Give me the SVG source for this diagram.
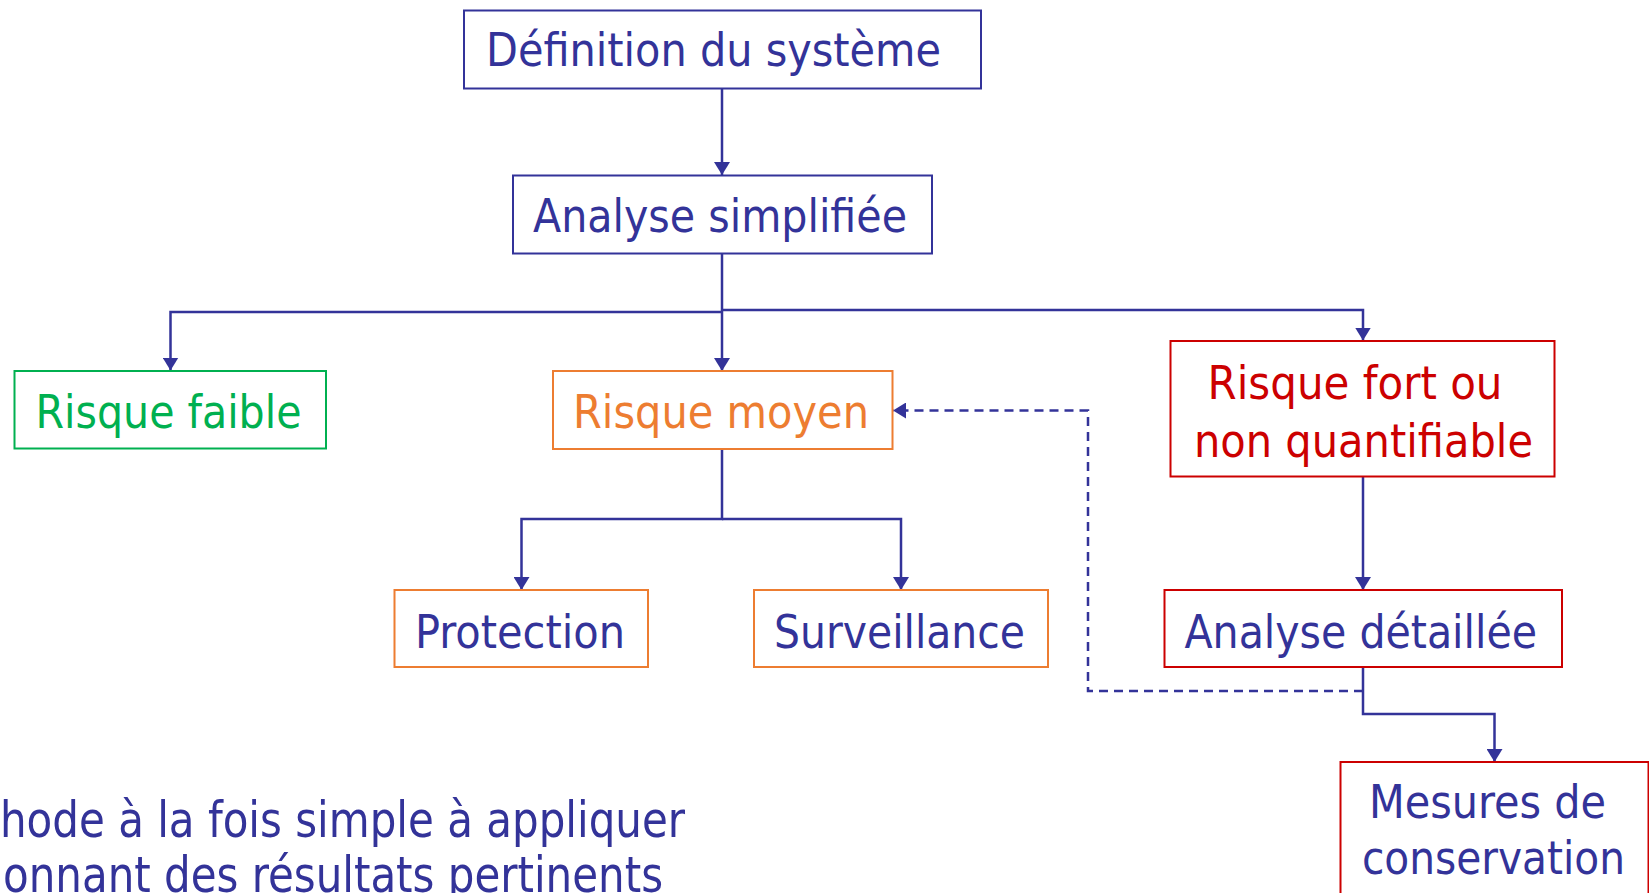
<svg xmlns="http://www.w3.org/2000/svg" width="1649" height="893" viewBox="0 0 1649 893">
<style>
text{font-family:"DejaVu Sans Condensed","DejaVu Sans",sans-serif;font-stretch:condensed;font-size:47px;fill:#333399}
.box{fill:#fff;stroke-width:2}
.navy{stroke:#333399}
.green{stroke:#00B050}
.orange{stroke:#ED7D31}
.red{stroke:#CC0000}
.tg{fill:#00B050}
.to{fill:#ED7D31}
.tr{fill:#CC0000}
.con{fill:none;stroke:#333399;stroke-width:2.5}
.dash{stroke-dasharray:9 6}
</style>
<defs>
<marker id="ah" viewBox="0 0 13 16" refX="13" refY="8" markerWidth="13" markerHeight="16" markerUnits="userSpaceOnUse" orient="auto">
<path d="M0,0 L13,8 L0,16 z" fill="#333399"/>
</marker>
</defs>
<rect width="1649" height="893" fill="#fff"/>
<g id="connectors">
<path class="con" d="M722,88 V175" marker-end="url(#ah)"/>
<path class="con" d="M722,253.5 V371" marker-end="url(#ah)"/>
<path class="con" d="M722,312 H170.5 V370.5" marker-end="url(#ah)"/>
<path class="con" d="M722,310 H1363 V340.5" marker-end="url(#ah)"/>
<path class="con" d="M722,449 V519 H521.5 V590" marker-end="url(#ah)"/>
<path class="con" d="M722,519 H901 V590" marker-end="url(#ah)"/>
<path class="con" d="M1363,476 V590" marker-end="url(#ah)"/>
<path class="con" d="M1363,667 V714 H1494.5 V762" marker-end="url(#ah)"/>
<path class="con dash" d="M1363,691 H1088 V410.5 H893" marker-end="url(#ah)"/>
</g>
<g id="definition">
<rect class="box navy" x="464" y="10.5" width="517" height="78"/>
<text x="486" y="66" textLength="455" lengthAdjust="spacingAndGlyphs">Définition du système</text>
</g>
<g id="analyse-simplifiee">
<rect class="box navy" x="513" y="175.5" width="419" height="78"/>
<text x="533" y="232" textLength="374" lengthAdjust="spacingAndGlyphs">Analyse simplifiée</text>
</g>
<g id="risque-faible">
<rect class="box green" x="14.5" y="371" width="311.5" height="77.5"/>
<text class="tg" x="35.5" y="428" textLength="266" lengthAdjust="spacingAndGlyphs">Risque faible</text>
</g>
<g id="risque-moyen">
<rect class="box orange" x="553" y="371" width="339.5" height="78"/>
<text class="to" x="573" y="428" textLength="296" lengthAdjust="spacingAndGlyphs">Risque moyen</text>
</g>
<g id="risque-fort">
<rect class="box red" x="1170.5" y="341" width="384" height="135.5"/>
<text class="tr" x="1207.5" y="399" textLength="295" lengthAdjust="spacingAndGlyphs">Risque fort ou</text>
<text class="tr" x="1194" y="456.5" textLength="339" lengthAdjust="spacingAndGlyphs">non quantifiable</text>
</g>
<g id="protection">
<rect class="box orange" x="394.5" y="590" width="253.5" height="77"/>
<text x="415" y="648" textLength="210" lengthAdjust="spacingAndGlyphs">Protection</text>
</g>
<g id="surveillance">
<rect class="box orange" x="754" y="590" width="294" height="77"/>
<text x="774" y="648" textLength="251" lengthAdjust="spacingAndGlyphs">Surveillance</text>
</g>
<g id="analyse-detaillee">
<rect class="box red" x="1164.5" y="590" width="397.5" height="77"/>
<text x="1184.5" y="647.5" textLength="352.5" lengthAdjust="spacingAndGlyphs">Analyse détaillée</text>
</g>
<g id="mesures">
<rect class="box red" x="1340.5" y="762" width="308" height="200"/>
<text x="1369" y="818" textLength="237" lengthAdjust="spacingAndGlyphs">Mesures de</text>
<text x="1362" y="874" textLength="263" lengthAdjust="spacingAndGlyphs">conservation</text>
</g>
<g id="caption">
<text x="0" y="837" font-size="50" style="font-size:50px" textLength="685" lengthAdjust="spacingAndGlyphs">hode à la fois simple à appliquer</text>
<text x="3" y="892" style="font-size:50px" textLength="660" lengthAdjust="spacingAndGlyphs">onnant des résultats pertinents</text>
</g>
</svg>
